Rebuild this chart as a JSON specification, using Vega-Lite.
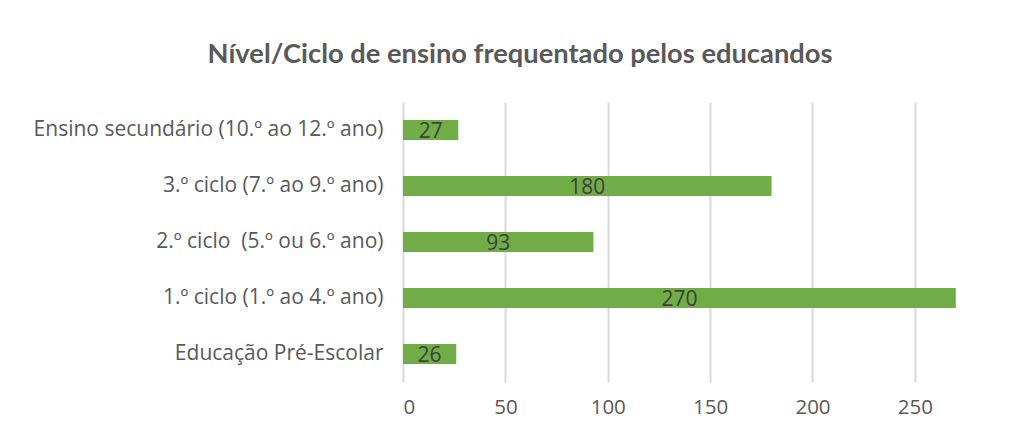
{
  "$schema": "https://vega.github.io/schema/vega-lite/v6.json",
  "autosize": {"type": "none"},
  "padding": {"left": 403, "top": 102, "right": 3, "bottom": 54},
  "width": 604,
  "height": 280,
  "background": "white",
  "title": {
    "text": "Nível/Ciclo de ensino frequentado pelos educandos",
    "font": "Lato",
    "fontSize": 27.3,
    "fontWeight": "bold",
    "color": "#595959",
    "anchor": "middle",
    "frame": "group",
    "dx": -185,
    "offset": 34
  },
  "config": {"view": {"stroke": null}},
  "data": {
    "values": [
      {"nivel": "Ensino secundário (10.º ao 12.º ano)", "n": 27},
      {"nivel": "3.º ciclo (7.º ao 9.º ano)", "n": 180},
      {"nivel": "2.º ciclo \u00a0(5.º ou 6.º ano)", "n": 93},
      {"nivel": "1.º ciclo (1.º ao 4.º ano)", "n": 270},
      {"nivel": "Educação Pré-Escolar", "n": 26}
    ]
  },
  "encoding": {
    "y": {
      "field": "nivel",
      "type": "nominal",
      "sort": null,
      "title": null,
      "scale": {"paddingInner": 0.64, "paddingOuter": 0.32},
      "axis": {
        "domain": false,
        "ticks": false,
        "labelFont": "Open Sans",
        "labelFontSize": 21,
        "labelColor": "#595959",
        "labelPadding": 20,
        "labelLimit": 500
      }
    },
    "x": {
      "field": "n",
      "type": "quantitative",
      "title": null,
      "scale": {"domain": [0, 295], "nice": false},
      "axis": {
        "values": [0, 50, 100, 150, 200, 250],
        "domain": false,
        "ticks": false,
        "grid": true,
        "gridColor": "#d9d9d9",
        "gridWidth": 2,
        "labelFont": "Open Sans",
        "labelFontSize": 20.5,
        "labelColor": "#595959",
        "labelPadding": 15
      }
    }
  },
  "layer": [
    {"mark": {"type": "bar", "color": "#70AD47"}},
    {
      "transform": [{"calculate": "datum.n / 2", "as": "meio"}],
      "mark": {"type": "text", "font": "Open Sans", "fontSize": 21, "color": "#404040", "baseline": "middle", "align": "center", "dy": 2},
      "encoding": {
        "x": {"field": "meio", "type": "quantitative"},
        "text": {"field": "n", "type": "quantitative"}
      }
    }
  ]
}
